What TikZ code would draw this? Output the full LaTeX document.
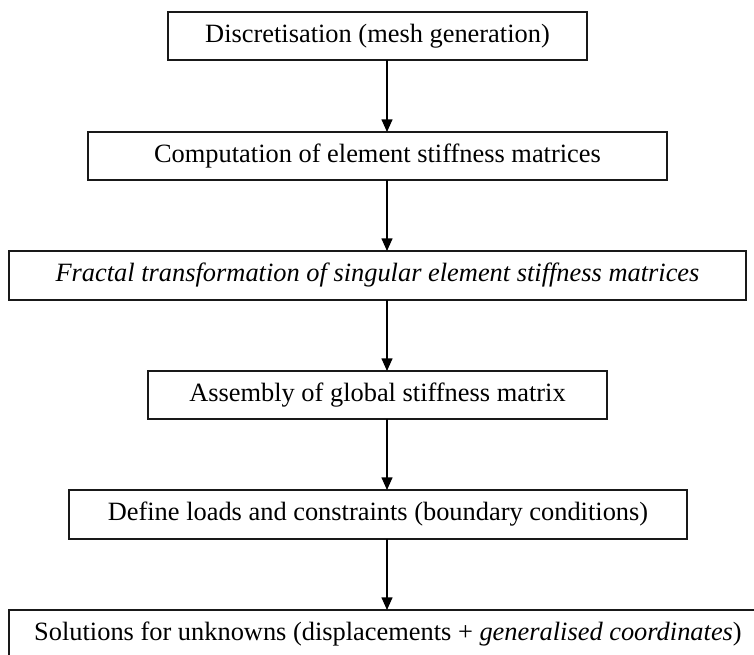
\documentclass[tikz,border=0pt]{standalone}
\usepackage{fontspec}
\setmainfont{Liberation Serif}
\usetikzlibrary{arrows.meta}
\def\pxu{0.75pt}
\tikzset{
  stepbox/.style={draw=black!90, line width=1.1pt, rectangle, inner sep=0pt, outer sep=0pt,
    align=center, font=\fontsize{19.8}{23}\selectfont, minimum height=48*\pxu},
  flow/.style={draw=black, line width=1.1pt, -{Triangle[length=9.5pt,width=8.2pt]}}
}
\begin{document}
\begin{tikzpicture}[x=0.75pt, y=-0.75pt]
  \useasboundingbox (0,0) rectangle (754,655);
  \clip (0,0) rectangle (754,655);

  % process steps
  \node[stepbox, minimum width=419*\pxu] (b1) at (377.5,36) {Discretisation (mesh generation)};
  \node[stepbox, minimum width=579*\pxu] (b2) at (377.5,156) {Computation of element stiffness matrices};
  \node[stepbox, minimum width=737*\pxu, minimum height=49*\pxu] (b3) at (377.5,275.5) {\itshape Fractal transformation of singular element stiffness matrices};
  \node[stepbox, minimum width=459*\pxu] (b4) at (377.5,395) {Assembly of global stiffness matrix};
  \node[stepbox, minimum width=618*\pxu, minimum height=49*\pxu] (b5) at (378,514.5) {Define loads and constraints (boundary conditions)};
  \node[stepbox, minimum width=758*\pxu] (b6) at (388,634) {Solutions for unknowns (displacements + \textit{generalised coordinates})};

  % vertical axis of the connectors
  \coordinate (ax) at (387,0);

  \draw[flow] (b1.south -| ax) -- (b2.north -| ax);
  \draw[flow] (b2.south -| ax) -- (b3.north -| ax);
  \draw[flow] (b3.south -| ax) -- (b4.north -| ax);
  \draw[flow] (b4.south -| ax) -- (b5.north -| ax);
  \draw[flow] (b5.south -| ax) -- (b6.north -| ax);
\end{tikzpicture}
\end{document}
